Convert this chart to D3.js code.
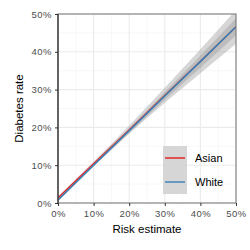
<!DOCTYPE html>
<html>
<head>
<meta charset="utf-8">
<script src="https://cdn.jsdelivr.net/npm/d3@7"></script>
<style>
  body { margin: 0; background: #fff; }
  svg { display: block; font-family: "Liberation Sans", Arial, sans-serif; }
</style>
</head>
<body>
<svg id="chart" width="250" height="250"></svg>
<script>
// data
const groups = ["Asian", "White"];
const groupColors = ["#e41a1c", "#377eb8"];
const riskPoints = [0, 0.1, 0.2, 0.3, 0.4, 0.5];
const asianFit = [0.013, 0.104, 0.194, 0.285, 0.375, 0.466];
const asianHalfWidth = [0.005, 0.006, 0.011, 0.02, 0.032, 0.045];
const whiteFit = [0.008, 0.1, 0.191, 0.283, 0.374, 0.466];
const whiteHalfWidth = [0.004, 0.004, 0.006, 0.01, 0.016, 0.023];
const tickValues = [0, 0.1, 0.2, 0.3, 0.4, 0.5];
const minorTicks = [0.05, 0.15, 0.25, 0.35, 0.45];

const svg = d3.select("#chart");
const margin = { top: 14, right: 14, bottom: 47, left: 58 };
const width = 250 - margin.left - margin.right;
const height = 250 - margin.top - margin.bottom;

const x = d3.scaleLinear().domain([0, 0.5]).range([0, width]);
const y = d3.scaleLinear().domain([0, 0.5]).range([height, 0]);
const fmt = d3.format(".0%");

const g = svg.append("g").attr("transform", `translate(${margin.left},${margin.top})`);

svg.append("defs").append("clipPath").attr("id", "panel")
  .append("rect").attr("width", width).attr("height", height);

// grid
g.selectAll(".minor-x").data(minorTicks).enter().append("line")
  .attr("x1", d => x(d)).attr("x2", d => x(d)).attr("y1", 0).attr("y2", height)
  .attr("stroke", "#f2f2f2").attr("stroke-width", 0.6);
g.selectAll(".minor-y").data(minorTicks).enter().append("line")
  .attr("y1", d => y(d)).attr("y2", d => y(d)).attr("x1", 0).attr("x2", width)
  .attr("stroke", "#f2f2f2").attr("stroke-width", 0.6);
g.selectAll(".major-x").data(tickValues).enter().append("line")
  .attr("x1", d => x(d)).attr("x2", d => x(d)).attr("y1", 0).attr("y2", height)
  .attr("stroke", "#ebebeb").attr("stroke-width", 1.1);
g.selectAll(".major-y").data(tickValues).enter().append("line")
  .attr("y1", d => y(d)).attr("y2", d => y(d)).attr("x1", 0).attr("x2", width)
  .attr("stroke", "#ebebeb").attr("stroke-width", 1.1);

const series = [
  { name: groups[0], fit: asianFit, half: asianHalfWidth },
  { name: groups[1], fit: whiteFit, half: whiteHalfWidth }
].map((s, i) => ({
  ...s,
  color: groupColors[i],
  points: riskPoints.map((r, j) => ({ x: r, y: s.fit[j], lo: s.fit[j] - s.half[j], hi: s.fit[j] + s.half[j] }))
}));

const plot = g.append("g").attr("clip-path", "url(#panel)");

const area = d3.area().x(d => x(d.x)).y0(d => y(d.lo)).y1(d => y(d.hi)).curve(d3.curveMonotoneX);
const line = d3.line().x(d => x(d.x)).y(d => y(d.y));

// ribbon then line for each group, like geom_smooth
const layers = plot.selectAll(".smooth").data(series).enter().append("g");
layers.append("path")
  .attr("d", d => area(d.points))
  .attr("fill", "#999999").attr("fill-opacity", 0.4);
layers.append("path")
  .attr("d", d => line(d.points))
  .attr("fill", "none").attr("stroke", d => d.color).attr("stroke-width", 1.4);

// panel border + axes
g.append("rect").attr("width", width).attr("height", height)
  .attr("fill", "none").attr("stroke", "#7f7f7f").attr("stroke-width", 1.1);
g.append("line").attr("x1", 0).attr("x2", 0).attr("y1", 0).attr("y2", height)
  .attr("stroke", "#222").attr("stroke-width", 1.1);

const xAxis = g.append("g").attr("transform", `translate(0,${height})`)
  .call(d3.axisBottom(x).tickValues(tickValues).tickFormat(fmt).tickSize(3).tickPadding(4.5));
const yAxis = g.append("g")
  .call(d3.axisLeft(y).tickValues(tickValues).tickFormat(fmt).tickSize(3).tickPadding(3));
[xAxis, yAxis].forEach(a => {
  a.select(".domain").remove();
  a.selectAll(".tick line").attr("stroke", "#333").attr("stroke-width", 1);
  a.selectAll("text").attr("fill", "#4d4d4d").style("font-size", "9.5px")
    .style("letter-spacing", "0.5px")
    .style("font-family", "'Liberation Sans', Arial, sans-serif");
});

svg.append("text").attr("x", margin.left + width / 2).attr("y", 233)
  .attr("text-anchor", "middle").style("font-size", "11.5px").text("Risk estimate");
svg.append("text").attr("transform", `translate(23,${margin.top + height / 2}) rotate(-90)`)
  .attr("text-anchor", "middle").style("font-size", "11.5px").text("Diabetes rate");

// legend
const legend = svg.append("g").attr("transform", "translate(163,146)");
const keys = legend.selectAll(".key").data(series).enter().append("g")
  .attr("transform", (d, i) => `translate(0,${i * 24})`);
keys.append("rect").attr("width", 24).attr("height", 24).attr("fill", "#d6d6d6");
keys.append("line").attr("x1", 2).attr("x2", 22).attr("y1", 12).attr("y2", 12)
  .attr("stroke", d => d.color).attr("stroke-width", 1.4);
keys.append("text").attr("x", 32).attr("y", 16).style("font-size", "11px").text(d => d.name);
</script>
</body>
</html>
